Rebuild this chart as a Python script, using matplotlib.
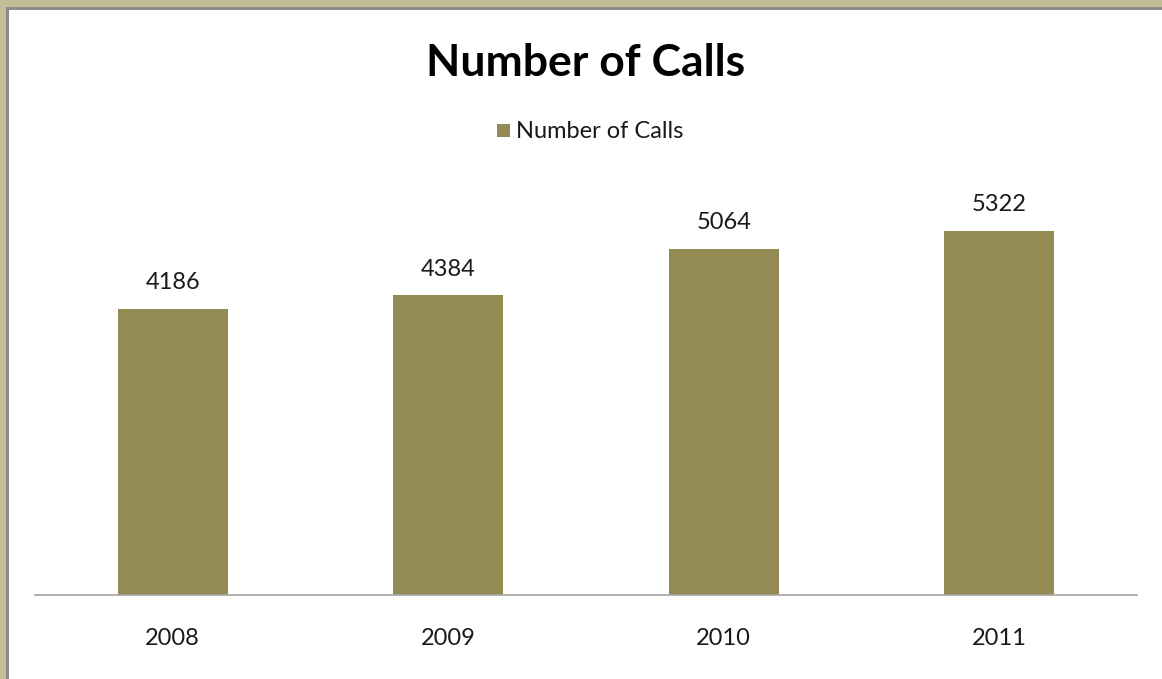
import matplotlib
matplotlib.use("Agg")
import matplotlib.pyplot as plt
from matplotlib.patches import Rectangle

years = ["2008", "2009", "2010", "2011"]
calls = [4186, 4384, 5064, 5322]
series_name = "Number of Calls"
title = "Number of Calls"

W, H = 1162, 679
fig = plt.figure(figsize=(W / 100, H / 100), dpi=100)
plt.rcParams['font.family'] = ['Lato', 'DejaVu Sans']

# frame border (tan strip + gray line) at top and left
def px(x0, y0, w, h, color):
    fig.patches.append(Rectangle((x0 / W, 1 - (y0 + h) / H), w / W, h / H,
                                 transform=fig.transFigure, color=color, zorder=0, lw=0))
px(0, 0, W, 7, "#c4bd97")
px(0, 0, 6, H, "#c4bd97")
px(6, 7, W - 6, 3, "#8c8c8c")
px(6, 7, 3, H - 7, "#8c8c8c")

ax = fig.add_axes([35 / W, (H - 595) / H, (1137 - 35) / W, (595 - 187) / H])
x = range(len(years))
bars = ax.bar(x, calls, width=0.4, color="#948a54", zorder=2)
ax.set_xlim(-0.5, len(years) - 0.5)
ax.set_ylim(0, 5970)
ax.set_yticks([])
for s in ["top", "right", "left"]:
    ax.spines[s].set_visible(False)
ax.spines["bottom"].set_color("#a6a6a6")
ax.spines["bottom"].set_linewidth(1.2)
ax.set_xticks(list(x))
ax.set_xticklabels(years, fontsize=17, color="#1a1a1a")
ax.tick_params(axis="x", length=0, pad=24)

for xi, v in zip(x, calls):
    ax.annotate(str(v), (xi, v), xytext=(0, 19), textcoords="offset points",
                ha="center", va="center", fontsize=17, color="#1a1a1a")

fig.text(586 / W, 1 - 63 / H, title, ha="center", va="center",
         fontsize=32, fontweight="bold", color="black")

# legend
px(497, 124, 13, 13, "#948a54")
fig.text(516 / W, 1 - 131 / H, series_name, ha="left", va="center",
         fontsize=17, color="#1a1a1a")

fig.savefig("out.png", dpi=100)
